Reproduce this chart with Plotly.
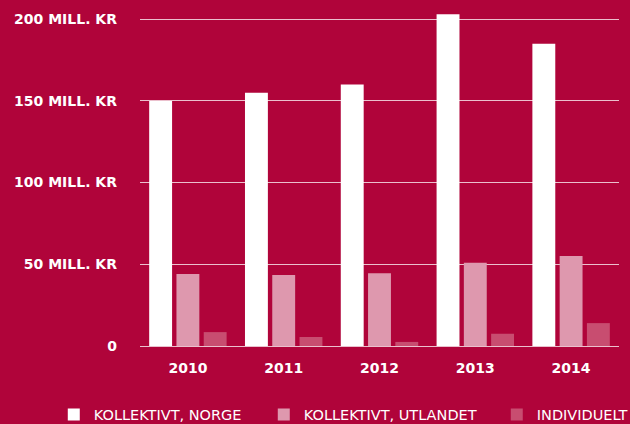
import plotly.graph_objects as go

years = ['2010', '2011', '2012', '2013', '2014']
kollektivt_norge = [150, 155, 160, 203, 185]
kollektivt_utlandet = [44, 43.5, 44.5, 51, 55]
individuelt = [8.5, 5.5, 2.5, 7.5, 14]

y_ticks = [0, 50, 100, 150, 200]
y_tick_labels = ['0', '50 MILL. KR', '100 MILL. KR', '150 MILL. KR', '200 MILL. KR']

bg = '#B0043A'

fig = go.Figure()
fig.add_trace(go.Bar(x=years, y=kollektivt_norge, name='KOLLEKTIVT, NORGE',
                     marker=dict(color='#FFFFFF', line_width=0), legendwidth=165))
fig.add_trace(go.Bar(x=years, y=kollektivt_utlandet, name='KOLLEKTIVT, UTLANDET',
                     marker=dict(color='#DE98AE', line_width=0), legendwidth=188))
fig.add_trace(go.Bar(x=years, y=individuelt, name='INDIVIDUELT',
                     marker=dict(color='#C84D70', line_width=0)))

fig.update_layout(
    width=630, height=424,
    paper_bgcolor=bg,
    plot_bgcolor=bg,
    barmode='group',
    bargap=0.146,
    bargroupgap=0.16,
    margin=dict(l=140, r=11, t=11, b=78, autoexpand=False),
    font=dict(family='DejaVu Sans', color='#FFFFFF'),
    showlegend=True,
    legend=dict(
        orientation='h',
        x=-0.180, y=-0.205,
        xanchor='left', yanchor='middle',
        font=dict(size=14.5, family='DejaVu Sans'),
        bgcolor='rgba(0,0,0,0)',
    ),
)
fig.update_xaxes(
    showgrid=False, ticks='', showline=False, zeroline=False,
    tickfont=dict(size=14, family='DejaVu Sans', weight='bold'),
    ticklabelstandoff=12,
)
fig.update_yaxes(
    range=[0, 205],
    tickvals=y_ticks, ticktext=y_tick_labels,
    showgrid=True, gridcolor='rgba(255,255,255,0.75)', gridwidth=1,
    zeroline=True, zerolinecolor='rgba(255,255,255,0.75)', zerolinewidth=1,
    ticks='', showline=False,
    tickfont=dict(size=14, family='DejaVu Sans', weight='bold'),
    ticklabelstandoff=22,
)

# page without the default body margin so the chart fills the window
fig.write_html("out.html", config={'displayModeBar': False},
               post_script="document.body.style.margin='0';")
